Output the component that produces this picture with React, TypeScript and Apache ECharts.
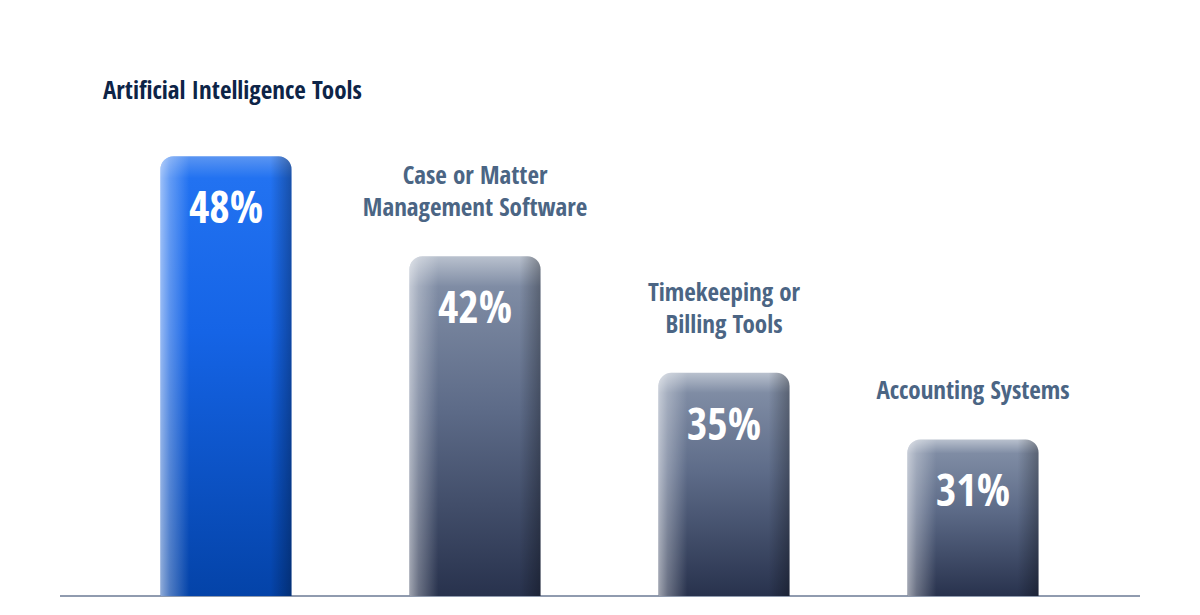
import React, { useEffect, useRef } from "react";
import * as echarts from "echarts";

const categories = [
  "Artificial Intelligence Tools",
  "Case or Matter\nManagement Software",
  "Timekeeping or\nBilling Tools",
  "Accounting Systems",
];
const values = [48, 42, 35, 31];

const FONT = "'Open Sans Condensed', 'Roboto Condensed', sans-serif";

const blueFill = new echarts.graphic.LinearGradient(0, 0, 0, 1, [
  { offset: 0, color: "#5a95f2" },
  { offset: 0.05, color: "#2272f1" },
  { offset: 0.4, color: "#1564e6" },
  { offset: 1, color: "#0443a8" },
]);
const grayFill = new echarts.graphic.LinearGradient(0, 0, 0, 1, [
  { offset: 0, color: "#b9c1ce" },
  { offset: 0.09, color: "#7f8ca4" },
  { offset: 0.45, color: "#5d6b88" },
  { offset: 1, color: "#28324d" },
]);
const overlayFill = new echarts.graphic.LinearGradient(0, 0, 1, 0, [
  { offset: 0, color: "rgba(255,255,255,0.55)" },
  { offset: 0.07, color: "rgba(255,255,255,0.3)" },
  { offset: 0.22, color: "rgba(255,255,255,0)" },
  { offset: 0.84, color: "rgba(0,0,0,0)" },
  { offset: 1, color: "rgba(0,0,0,0.3)" },
]);

export default function App() {
  const ref = useRef<HTMLDivElement>(null);
  useEffect(() => {
    if (!ref.current) return;
    const chart = echarts.init(ref.current, null, { renderer: "svg" });
    chart.setOption({
      animation: false,
      backgroundColor: "#ffffff",
      title: {
        text: categories[0],
        left: 98,
        top: 71,
        textStyle: {
          fontFamily: FONT,
          fontWeight: "bold",
          fontSize: 25,
          color: "#0d2447",
        },
      },
      grid: { left: 101.5, right: 102.5, top: 123, bottom: 19 },
      xAxis: {
        type: "category",
        data: categories,
        axisLine: { show: false },
        axisTick: { show: false },
        axisLabel: { show: false },
      },
      yAxis: {
        type: "value",
        min: 21.6,
        max: 50,
        show: false,
        splitLine: { show: false },
      },
      series: [
        {
          type: "bar",
          barWidth: 131,
          data: values.map((v, i) => ({
            value: v,
            itemStyle: {
              color: i === 0 ? blueFill : grayFill,
              borderRadius: [13, 13, 0, 0],
            },
          })),
          label: {
            show: true,
            position: "insideTop",
            distance: 25,
            formatter: "{c}%",
            fontFamily: FONT,
            fontWeight: "bold",
            fontSize: 44,
            lineHeight: 50,
            color: "#ffffff",
          },
        },
        {
          type: "bar",
          barWidth: 131,
          barGap: "-100%",
          data: values.map((v) => v),
          itemStyle: { color: overlayFill, borderRadius: [13, 13, 0, 0] },
          label: {
            show: true,
            position: "top",
            distance: 34,
            formatter: (p: any) => (p.dataIndex === 0 ? "" : categories[p.dataIndex]),
            fontFamily: FONT,
            fontWeight: "bold",
            fontSize: 25,
            lineHeight: 32,
            color: "#4b6584",
          },
          silent: true,
        },
      ],
      graphic: [
        {
          type: "line",
          shape: { x1: 60, y1: 596, x2: 1140, y2: 596 },
          style: { stroke: "#6b7a94", lineWidth: 1.5 },
        },
      ],
    });
    return () => chart.dispose();
  }, []);
  return (
    <div
      ref={ref}
      style={{ position: "fixed", left: 0, top: 0, width: 1200, height: 615 }}
    />
  );
}
